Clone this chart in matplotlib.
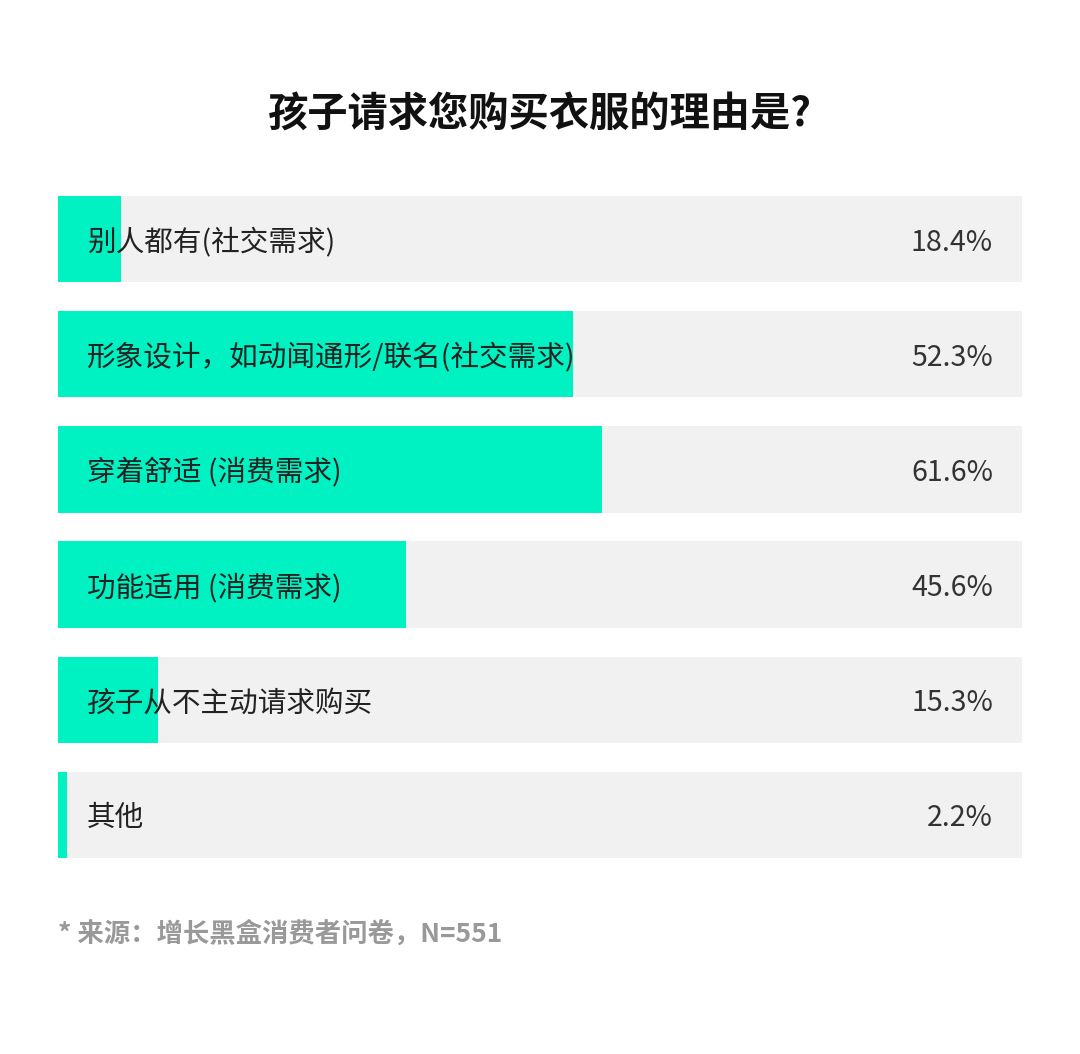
import matplotlib.pyplot as plt

plt.rcParams['font.family'] = ['Noto Sans CJK SC', 'DejaVu Sans']

title = '孩子请求您购买衣服的理由是?'
labels = ['别人都有(社交需求)', '形象设计，如动闻通形/联名(社交需求)', '穿着舒适 (消费需求)',
          '功能适用 (消费需求)', '孩子从不主动请求购买', '其他']
pct = ['18.4%', '52.3%', '61.6%', '45.6%', '15.3%', '2.2%']
# bar lengths as drawn in the picture, in % of the grey track
shown = [6.5, 53.4, 56.4, 36.1, 10.4, 0.9]
source = '* 来源：增长黑盒消费者问卷，N=551'

W, H = 1080, 1054
fig = plt.figure(figsize=(W / 100, H / 100), dpi=100)
fig.patch.set_facecolor('white')

ax = fig.add_axes([58 / W, (H - 858) / H, 964 / W, 662 / H])
n = len(labels)
rows = list(range(n))
ax.barh(rows, [100] * n, height=0.75, color='#f1f1f1', left=0)
ax.barh(rows, shown, height=0.75, color='#00f2c3', left=0)
for i in rows:
    ax.text(3.0, i + 0.03, labels[i], ha='left', va='center', fontsize=20.6, color='#222222')
    ax.text(97.0, i + 0.03, pct[i], ha='right', va='center', fontsize=20.6, color='#333333')
ax.set_xlim(0, 100)
ax.set_ylim(5.374, -0.374)
ax.axis('off')

fig.text(0.5, 1 - 114 / H, title, ha='center', va='center', fontsize=29,
         fontweight='bold', color='#111111')
fig.text(58 / W, 1 - 934 / H, source, ha='left', va='center', fontsize=19,
         fontweight='bold', color='#999999')

fig.savefig('out.png', dpi=100, facecolor='white')
